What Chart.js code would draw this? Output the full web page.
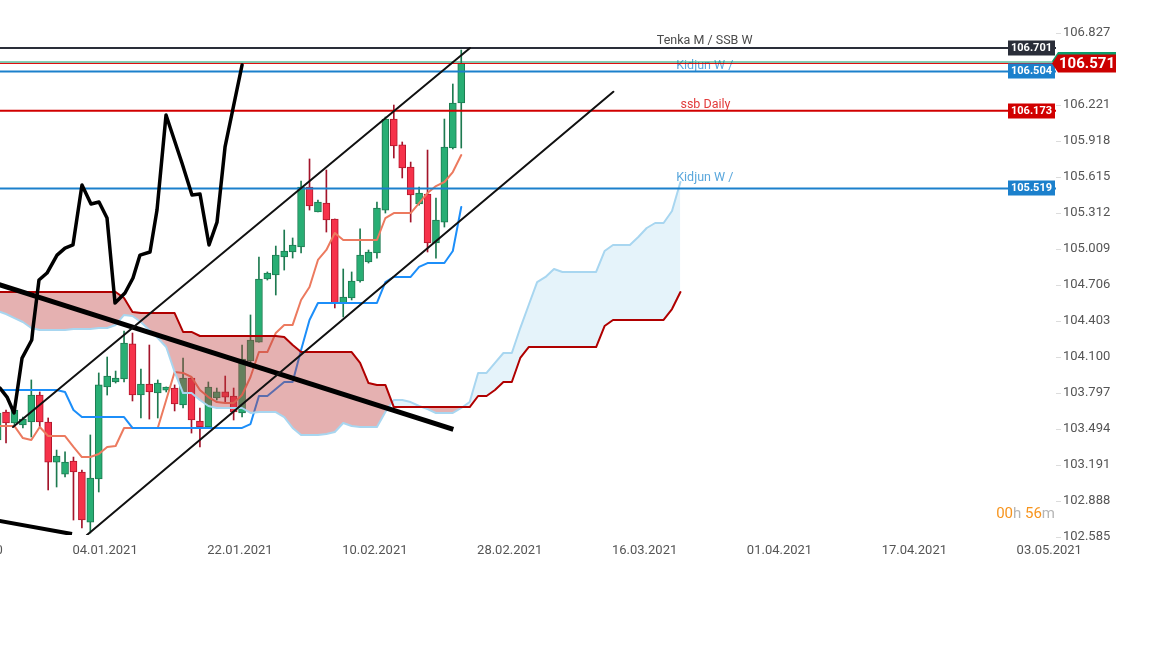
<!DOCTYPE html>
<html>
<head>
<meta charset="utf-8">
<script src="https://cdn.jsdelivr.net/npm/chart.js@4.4.1/dist/chart.umd.min.js"></script>
<style>
  html, body { margin: 0; padding: 0; background: #fff; }
  #chart { display: block; }
</style>
</head>
<body>
<canvas id="chart" width="1152" height="648"></canvas>
<script>
// Daily candles, one per bar index (0..55)
const opens = [
  103.402,103.637,103.545,103.528,103.553,103.780,103.553,103.216,103.115,103.225,
  103.132,102.711,103.073,103.848,103.890,103.915,104.210,103.780,103.873,103.797,
  103.822,103.839,103.696,103.923,103.561,103.511,103.755,103.806,103.772,103.629,
  104.067,104.226,104.757,104.790,104.942,104.984,105.026,105.531,105.321,105.396,
  105.262,104.555,104.597,104.740,104.900,104.976,105.337,106.103,105.885,105.699,
  105.388,105.472,105.060,105.236,105.859,106.238];
const highs = [
  103.654,103.654,103.679,103.595,103.907,103.806,103.587,103.317,103.301,103.258,
  103.149,103.444,103.966,104.100,103.982,104.319,104.302,103.999,104.201,103.907,
  103.848,103.865,104.092,103.930,103.671,103.890,103.839,103.940,103.839,104.201,
  104.454,104.942,104.816,105.034,105.169,105.102,105.581,105.767,105.422,105.674,
  105.262,104.841,104.816,105.178,105.001,105.405,106.120,106.221,105.910,105.741,
  105.531,105.842,105.438,106.103,106.398,106.684];
const lows = [
  103.343,103.376,103.528,103.503,103.427,103.511,102.981,103.006,103.090,102.728,
  102.661,102.619,102.964,103.780,103.881,103.890,103.730,103.587,103.578,103.587,
  103.806,103.646,103.671,103.460,103.343,103.503,103.738,103.713,103.570,103.595,
  104.050,104.226,104.748,104.622,104.832,104.933,104.976,105.337,105.321,105.152,
  104.513,104.437,104.580,104.731,104.891,104.933,105.312,105.775,105.607,105.236,
  105.379,104.984,104.933,105.194,105.851,105.859];
const closes = [
  103.629,103.545,103.654,103.578,103.780,103.553,103.216,103.267,103.216,103.132,
  102.728,103.082,103.865,103.940,103.923,104.218,103.780,103.873,103.806,103.881,
  103.848,103.705,103.923,103.570,103.511,103.848,103.806,103.763,103.637,104.083,
  104.243,104.757,104.807,104.959,104.992,105.043,105.531,105.371,105.405,105.253,
  104.555,104.605,104.740,104.959,104.984,105.354,106.103,105.876,105.691,105.464,
  105.480,105.060,105.253,105.868,106.238,106.571];

// Ichimoku
const tenkan = [
  103.519,103.519,103.519,103.418,103.402,103.511,103.435,103.435,103.435,103.343,
  103.258,103.258,103.284,103.343,103.351,103.503,103.503,103.503,103.503,103.503,
  103.738,103.974,103.966,103.932,103.822,103.763,103.721,103.713,103.713,103.780,
  103.932,104.142,104.142,104.302,104.370,104.370,104.580,104.689,104.917,105.001,
  105.144,105.085,105.085,105.085,105.085,105.085,105.270,105.312,105.312,105.312,
  105.396,105.480,105.539,105.573,105.657,105.800];
const kijun = [
  103.822,103.822,103.822,103.822,103.822,103.822,103.822,103.822,103.806,103.654,
  103.595,103.595,103.595,103.595,103.595,103.595,103.503,103.503,103.503,103.503,
  103.503,103.503,103.503,103.503,103.503,103.503,103.503,103.503,103.503,103.503,
  103.536,103.772,103.772,103.831,103.890,103.890,104.159,104.412,104.555,104.555,
  104.555,104.555,104.555,104.555,104.555,104.555,104.731,104.774,104.774,104.774,
  104.858,104.891,104.891,104.891,104.992,105.363];
const spanA = [
  104.487,104.462,104.428,104.395,104.344,104.327,104.327,104.327,104.327,104.336,
  104.336,104.336,104.344,104.344,104.370,104.454,104.445,104.395,104.327,104.260,
  104.184,103.974,103.797,103.797,103.738,103.688,103.671,103.671,103.671,103.671,
  103.629,103.637,103.637,103.637,103.595,103.503,103.444,103.444,103.444,103.452,
  103.469,103.545,103.519,103.511,103.511,103.511,103.637,103.738,103.738,103.721,
  103.688,103.662,103.629,103.629,103.629,103.671,103.721,103.966,103.966,104.050,
  104.134,104.134,104.344,104.538,104.731,104.774,104.841,104.816,104.816,104.816,
  104.816,104.816,104.992,105.043,105.043,105.043,105.110,105.186,105.228,105.228,
  105.329,105.573];
const spanB = [
  104.647,104.647,104.647,104.647,104.647,104.647,104.647,104.647,104.647,104.647,
  104.647,104.647,104.647,104.647,104.647,104.597,104.479,104.470,104.470,104.470,
  104.470,104.470,104.311,104.311,104.277,104.277,104.277,104.277,104.277,104.277,
  104.277,104.277,104.277,104.277,104.269,104.201,104.142,104.142,104.142,104.142,
  104.142,104.142,104.142,104.050,103.881,103.865,103.865,103.679,103.679,103.679,
  103.679,103.679,103.679,103.679,103.679,103.679,103.679,103.772,103.772,103.822,
  103.890,103.890,104.092,104.184,104.184,104.184,104.184,104.184,104.184,104.184,
  104.184,104.184,104.361,104.412,104.412,104.412,104.412,104.412,104.412,104.412,
  104.504,104.647];

// Hand drawn path and trend lines (bar index, price)
const pathX = [0.28,1.12,1.95,2.9,4.05,4.2,4.91,5.86,7.05,8.0,8.94,10.01,11.08,12.03,12.98,13.93,15.11,16.06,16.89,18.08,18.91,19.98,21.87,23.06,24.01,25.08,26.03,26.98,29.0];
const pathY = [103.839,103.763,103.629,104.091,104.243,104.344,104.748,104.807,104.958,105.017,105.043,105.548,105.388,105.405,105.270,104.554,104.639,104.765,104.958,104.984,105.337,106.137,105.733,105.463,105.472,105.043,105.236,105.868,106.558];
const channelTop = [[1.83, 103.511], [56.04, 106.701]];
const channelBottom = [[10.6, 102.602], [73.04, 106.333]];
const fallingLine = [[-2, 104.758], [54.06, 103.491]];
const bottomLine = [[-1, 102.737], [8.83, 102.610]];

// Horizontal levels
const levelPrices = [106.701, 106.504, 106.173, 105.519];
const levelColors = ['#2a2e39', '#1b80cc', '#d10000', '#1b80cc'];
const levelNames = ['Tenka M / SSB W', 'Kidjun W /', 'ssb Daily', 'Kidjun W /'];
const levelNameColors = ['#4b4b4b', '#5aa7dc', '#e23a3a', '#5aa7dc'];
const levelNameAt = [78.2, 80.5, 81.0, 80.5];
const levelNameGap = [3.5, 2.5, 3, 7.5];
const lastPrice = 106.571;
const lastOpenLine = 106.583;

// Axis ticks
const priceTicks = [102.585,102.888,103.191,103.494,103.797,104.100,104.403,104.706,105.009,105.312,105.615,105.918,106.221,106.524,106.827,107.130];
const dateLabels = ['20.12.2020','04.01.2021','22.01.2021','10.02.2021','28.02.2021','16.03.2021','01.04.2021','17.04.2021','03.05.2021'];
const dateTicks = [-3.25, 12.75, 28.75, 44.75, 60.75, 76.75, 92.75, 108.75, 124.75];

const X_MIN = 0.285, X_MAX = 125.55;
const Y_MIN = 102.602, Y_MAX = 107.105;

Chart.defaults.font.family = 'Roboto';

const up = opens.map((o, i) => closes[i] >= o);
const pts = arr => arr.map((v, i) => ({x: i, y: v}));
const seg = pair => pair.map(p => ({x: p[0], y: p[1]}));

function lineSet(data, color, width, order, extra) {
  return Object.assign({
    type: 'line', data: data, borderColor: color, borderWidth: width,
    pointRadius: 0, tension: 0, fill: false, order: order,
    borderJoinStyle: 'round', borderCapStyle: 'round'
  }, extra || {});
}

// no extra room for labels that hang over the plot edges
function noPadding(s) {
  s.paddingLeft = 0; s.paddingRight = 0; s.paddingTop = 0; s.paddingBottom = 0;
}

const datasets = [
  {
    type: 'bar',
    data: opens.map((o, i) => ({x: i, y: [lows[i], highs[i]]})),
    backgroundColor: up.map(u => u ? '#1d7a50' : '#a3142a'),
    barThickness: 1, grouped: false, order: 10
  },
  {
    type: 'bar',
    data: opens.map((o, i) => ({x: i, y: [o, closes[i]]})),
    backgroundColor: up.map(u => u ? '#28ae74' : '#f6324a'),
    borderColor: up.map(u => u ? '#1d7a50' : '#b3172c'),
    borderWidth: 1, borderSkipped: false,
    barThickness: 7, grouped: false, order: 9
  },
  lineSet(pts(tenkan), '#ec7a5f', 2, 8),
  lineSet(pts(kijun), '#1c8ef9', 2, 7),
  lineSet(pts(spanA), '#a8d6f0', 2, 6, {
    fill: {target: 5, above: 'rgba(170,215,240,0.3)', below: 'rgba(190,60,60,0.4)'}
  }),
  lineSet(pts(spanB), '#b00000', 2, 5)
];

levelPrices.forEach((p, i) => {
  datasets.push(lineSet([{x: X_MIN, y: p}, {x: X_MAX, y: p}], levelColors[i], 2, 3, {borderCapStyle: 'butt'}));
});
datasets.push(lineSet([{x: X_MIN, y: lastOpenLine}, {x: X_MAX, y: lastOpenLine}], '#0a9d6a', 1, 3, {borderCapStyle: 'butt'}));
datasets.push(lineSet([{x: X_MIN, y: lastPrice}, {x: X_MAX, y: lastPrice}], '#e00000', 1, 3, {borderCapStyle: 'butt'}));

datasets.push(lineSet(pathX.map((v, i) => ({x: v, y: pathY[i]})), '#000', 3.5, 1));
datasets.push(lineSet(seg(channelTop), '#111', 2, 1));
datasets.push(lineSet(seg(channelBottom), '#111', 2, 1));
datasets.push(lineSet(seg(fallingLine), '#000', 5, 1, {borderCapStyle: 'butt'}));
datasets.push(lineSet(seg(bottomLine), '#000', 4, 1, {borderCapStyle: 'butt'}));

const overlay = {
  id: 'overlay',
  beforeDatasetsDraw(chart) {
    const {ctx, scales: {x, y}} = chart;
    ctx.save();
    ctx.font = '12.5px Roboto';
    ctx.textAlign = 'left';
    ctx.textBaseline = 'alphabetic';
    levelPrices.forEach((p, i) => {
      const py = y.getPixelForValue(p);
      ctx.fillStyle = levelNameColors[i];
      ctx.fillText(levelNames[i], x.getPixelForValue(levelNameAt[i]), py - levelNameGap[i]);
    });
    ctx.restore();
  },
  afterDraw(chart) {
    const {ctx, chartArea, scales: {x, y}} = chart;
    ctx.save();
    // value boxes at the right edge of the plot
    levelPrices.forEach((p, i) => {
      const py = Math.round(y.getPixelForValue(p));
      const w = 47, h = 15, bx = chartArea.right - w - 1;
      ctx.fillStyle = levelColors[i];
      ctx.fillRect(bx, py - h / 2, w, h);
      ctx.fillStyle = '#fff';
      ctx.font = 'bold 11px Roboto';
      ctx.textAlign = 'center';
      ctx.textBaseline = 'middle';
      ctx.fillText(p.toFixed(3), bx + w / 2, py + 0.5);
    });
    // last price tag on the axis
    const tag = (py, color) => {
      const left = chartArea.right - 4, tip = 6, w = 58, h = 18;
      ctx.fillStyle = color;
      ctx.beginPath();
      ctx.moveTo(left, py);
      ctx.lineTo(left + tip, py - h / 2);
      ctx.lineTo(left + tip + w, py - h / 2);
      ctx.lineTo(left + tip + w, py + h / 2);
      ctx.lineTo(left + tip, py + h / 2);
      ctx.closePath();
      ctx.fill();
    };
    tag(y.getPixelForValue(lastOpenLine) - 1, '#0a9d6a');
    const lp = y.getPixelForValue(lastPrice);
    tag(lp, '#cc0000');
    ctx.fillStyle = '#fff';
    ctx.font = 'bold 15px Roboto';
    ctx.textAlign = 'center';
    ctx.textBaseline = 'middle';
    ctx.fillText(lastPrice.toFixed(3), chartArea.right + 31, lp + 1);
    // candle countdown
    const parts = [['00', '#f7941d'], ['h ', '#b5b5b5'], ['56', '#f7941d'], ['m', '#b5b5b5']];
    ctx.font = '15px Roboto';
    ctx.textAlign = 'left';
    let total = 0;
    parts.forEach(p => { total += ctx.measureText(p[0]).width; });
    let tx = chartArea.right - 1 - total;
    parts.forEach(p => {
      ctx.fillStyle = p[1];
      ctx.fillText(p[0], tx, 514);
      tx += ctx.measureText(p[0]).width;
    });
    ctx.restore();
  }
};

new Chart(document.getElementById('chart'), {
  type: 'bar',
  data: {datasets: datasets},
  plugins: [overlay],
  options: {
    responsive: false,
    animation: false,
    layout: {padding: {left: 0, right: 0, top: 0, bottom: 93}},
    plugins: {legend: {display: false}, tooltip: {enabled: false}},
    scales: {
      x: {
        type: 'linear', min: X_MIN, max: X_MAX, offset: false,
        grid: {display: false, offset: false},
        border: {display: false},
        afterBuildTicks: s => { s.ticks = dateTicks.map(v => ({value: v})); },
        afterFit: s => { s.height = 20; noPadding(s); },
        ticks: {
          autoSkip: false, maxRotation: 0, padding: 0,
          color: '#555', font: {size: 13},
          callback: (v, i) => dateLabels[i]
        }
      },
      y: {
        type: 'linear', position: 'right', min: Y_MIN, max: Y_MAX,
        grid: {drawOnChartArea: false, drawTicks: true, tickLength: 5, color: '#dcdcdc'},
        border: {display: false},
        afterBuildTicks: s => { s.ticks = priceTicks.map(v => ({value: v})); },
        afterFit: s => { s.width = 96; noPadding(s); },
        ticks: {
          autoSkip: false, padding: 2,
          color: '#555', font: {size: 13},
          callback: v => Number(v).toFixed(3)
        }
      }
    }
  }
});
</script>
</body>
</html>
